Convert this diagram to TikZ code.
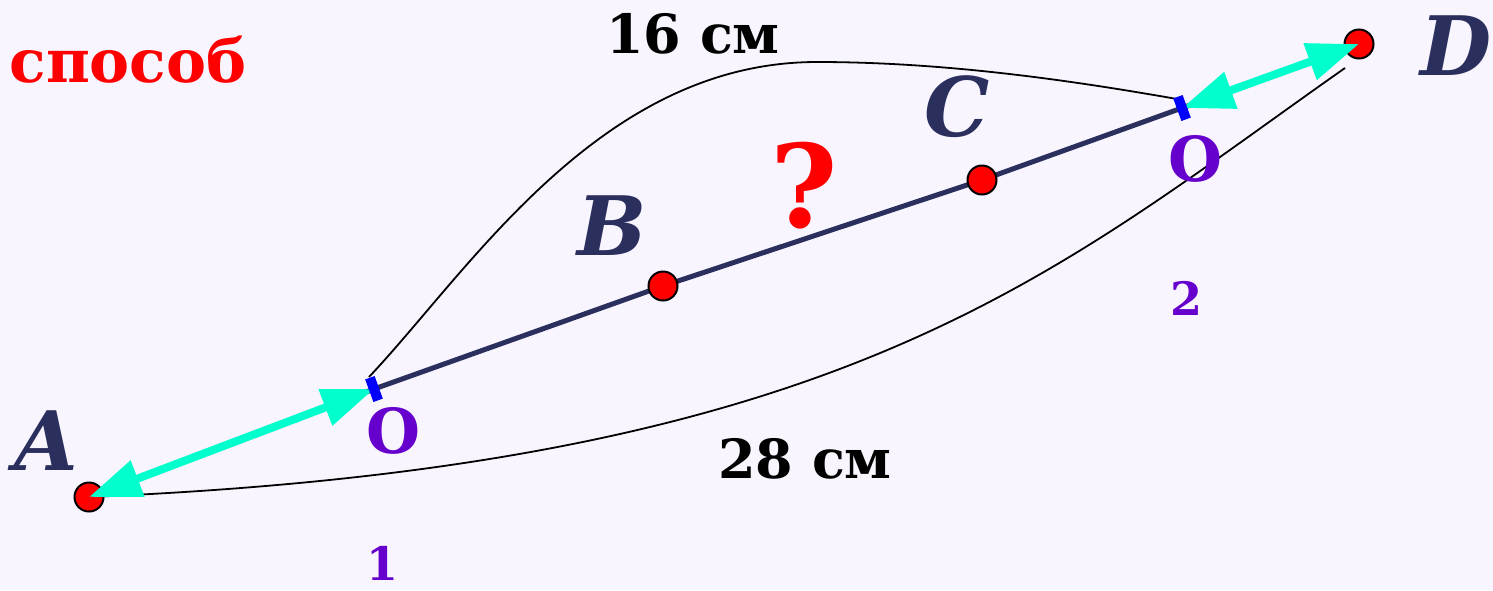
\documentclass[tikz,border=0pt]{standalone}
\usepackage{fontspec}
\setmainfont{DejaVu Serif}
\usetikzlibrary{arrows.meta}
\definecolor{bg}{RGB}{248,245,254}
\definecolor{navy}{RGB}{43,47,94}
\definecolor{aqua}{RGB}{0,255,204}
\definecolor{purp}{RGB}{102,0,204}
\begin{document}
\begin{tikzpicture}[x=1pt,y=-1pt,
  mainline/.style={draw=navy,line width=5pt,line join=round},
  thin/.style={draw=black,line width=1.8pt},
  dot/.style={circle,draw=black,line width=2pt,fill=red,minimum size=29pt,inner sep=0pt},
  tick/.style={rectangle,fill=blue,minimum width=10pt,minimum height=24pt,inner sep=0pt,rotate=20},
  aquaarrow/.style={draw=aqua,line width=8pt,{Triangle[length=52pt,width=37pt]}-{Triangle[length=52pt,width=37pt]}},
  ptlabel/.style={anchor=base,inner sep=0pt,text=navy,font=\fontsize{82}{90}\selectfont\bfseries\itshape},
  olabel/.style={anchor=base,inner sep=0pt,text=purp,font=\fontsize{62}{66}\selectfont\bfseries},
  sublabel/.style={anchor=base,inner sep=0pt,text=purp,font=\fontsize{46}{50}\selectfont\bfseries},
  lenlabel/.style={anchor=base,inner sep=0pt,text=black,font=\fontsize{54}{58}\selectfont\bfseries}]
\fill[bg] (0,0) rectangle (1493,590);
\useasboundingbox (0,0) rectangle (1493,590);
% points
\coordinate (pA) at (89,497);
\coordinate (pO1) at (374,389);
\coordinate (pB) at (663,286);
\coordinate (pC) at (982,180);
\coordinate (pO2) at (1182,108);
\coordinate (pD) at (1359,44);
\coordinate (ts) at (369,377);
\coordinate (tp) at (817,62);
\coordinate (te) at (1177,99);
\coordinate (be) at (1345,68);
% main segment
\draw[mainline] (pA) -- (pO1) -- (pB) -- (pC) -- (pO2) -- (pD);
% thin curves
\draw[thin] (ts) .. controls (470,270) and (600,62) .. (tp)
            .. controls (950,62) and (1080,82) .. (te);
\draw[thin] (pA) .. controls (850,465) and (1050,275) .. (be);
% dots
\node[dot] (A) at (pA) {};
\node[dot] (B) at (pB) {};
\node[dot] (C) at (pC) {};
\node[dot] (D) at (pD) {};
% arrows
\draw[aquaarrow] (pA) -- (pO1);
\draw[aquaarrow] (pO2) -- (pD);
% midpoint ticks
\node[tick] (O1) at (pO1) {};
\node[tick] (O2) at (pO2) {};
% labels
\node[ptlabel] (lA) at (46,470) {A};
\node[ptlabel] (lB) at (612,255) {B};
\node[ptlabel] (lC) at (957,136) {C};
\node[ptlabel] (lD) at (1456,75) {D};
\node[olabel] (lO1) at (393,453) {O};
\node[sublabel] (l1) at (382,580) {1};
\node[olabel] (lO2) at (1195,181) {O};
\node[sublabel] (l2) at (1186,315) {2};
\node[lenlabel] (l16) at (693,53) {16 см};
\node[lenlabel] (l28) at (805,478) {28 см};
\node[anchor=base,inner sep=0pt,text=red,font=\fontsize{115}{120}\selectfont\bfseries] (q) at (804,227) {?};
\node[anchor=base,inner sep=0pt,text=red,font=\fontsize{60}{64}\selectfont\bfseries] (sp) at (128,82) {способ};
\end{tikzpicture}
\end{document}
